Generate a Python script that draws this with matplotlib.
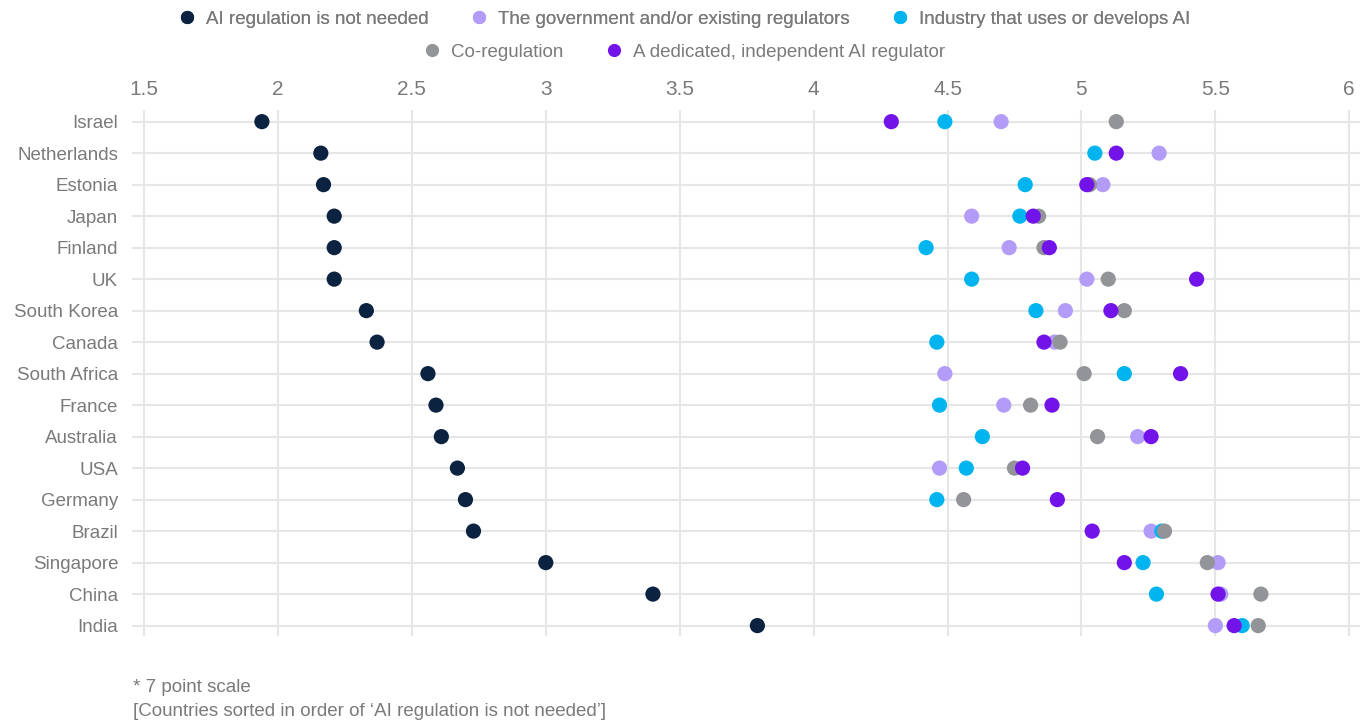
import numpy as np
import matplotlib
matplotlib.use("Agg")
import matplotlib.pyplot as plt
from matplotlib.lines import Line2D

plt.rcParams['font.family'] = ['Liberation Sans', 'DejaVu Sans']

# data (7 point scale)
countries = ["Israel", "Netherlands", "Estonia", "Japan", "Finland", "UK",
             "South Korea", "Canada", "South Africa", "France", "Australia",
             "USA", "Germany", "Brazil", "Singapore", "China", "India"]

not_needed = [1.94, 2.16, 2.17, 2.21, 2.21, 2.21, 2.33, 2.37, 2.56, 2.59,
              2.61, 2.67, 2.70, 2.73, 3.00, 3.40, 3.79]
government = [4.70, 5.29, 5.08, 4.59, 4.73, 5.02, 4.94, 4.90, 4.49, 4.71,
              5.21, 4.47, np.nan, 5.26, 5.51, 5.52, 5.50]
industry = [4.49, 5.05, 4.79, 4.77, 4.42, 4.59, 4.83, 4.46, 5.16, 4.47,
            4.63, 4.57, 4.46, 5.30, 5.23, 5.28, 5.60]
co_regulation = [5.13, np.nan, 5.03, 4.84, 4.86, 5.10, 5.16, 4.92, 5.01, 4.81,
                 5.06, 4.75, 4.56, 5.31, 5.47, 5.67, 5.66]
dedicated = [4.29, 5.13, 5.02, 4.82, 4.88, 5.43, 5.11, 4.86, 5.37, 4.89,
             5.26, 4.78, 4.91, 5.04, 5.16, 5.51, 5.57]

series = [
    ("AI regulation is not needed", not_needed, "#0b2340"),
    ("The government and/or existing regulators", government, "#b39cf7"),
    ("Industry that uses or develops AI", industry, "#00b5ef"),
    ("Co-regulation", co_regulation, "#929497"),
    ("A dedicated, independent AI regulator", dedicated, "#7213ea"),
]

text_col = "#7a7a7a"
grid_col = "#e6e6e6"
fs = 13.5

fig = plt.figure(figsize=(13.68, 7.22), dpi=100)
ax = fig.add_axes([132 / 1368, 1 - 636 / 722, 1228 / 1368, 526 / 722])

y = np.arange(len(countries))
for name, vals, col in series:
    ax.scatter(vals, y, s=120, color=col, edgecolors="none", zorder=3, label=name)

ax.set_xlim(1.455, 6.04)
ax.set_ylim(16.33, -0.37)
ax.set_xticks(np.arange(1.5, 6.01, 0.5))
ax.set_xticklabels(["1.5", "2", "2.5", "3", "3.5", "4", "4.5", "5", "5.5", "6"])
ax.xaxis.tick_top()
ax.set_yticks(y)
ax.set_yticklabels(countries)
ax.tick_params(axis="x", length=0, pad=8, labelsize=15, labelcolor=text_col)
ax.tick_params(axis="y", length=0, pad=10, labelsize=fs, labelcolor=text_col)
ax.grid(True, color=grid_col, linewidth=1.5, zorder=0)
ax.set_axisbelow(True)
for s in ax.spines.values():
    s.set_visible(False)

# legend in two centred rows
handles = [Line2D([], [], marker="o", linestyle="none", markersize=9.5,
                  markerfacecolor=c, markeredgecolor="none") for _, _, c in series]
labels = [n for n, _, _ in series]
leg1 = fig.legend(handles[:3], labels[:3], loc="center", bbox_to_anchor=(0.5, 1 - 19 / 722),
                  ncol=3, frameon=False, fontsize=fs, labelcolor=text_col,
                  handletextpad=0.5, columnspacing=2.2, handlelength=1.0)
fig.legend(handles[3:], labels[3:], loc="center", bbox_to_anchor=(0.5, 1 - 52 / 722),
           ncol=2, frameon=False, fontsize=fs, labelcolor=text_col,
           handletextpad=0.5, columnspacing=2.2, handlelength=1.0)
fig.add_artist(leg1)

fig.text(133 / 1368, 1 - 688 / 722, "* 7 point scale", fontsize=fs,
         color=text_col, va="center")
fig.text(133 / 1368, 1 - 711 / 722, "[Countries sorted in order of \u2018AI regulation is not needed\u2019]",
         fontsize=fs, color=text_col, va="center")

fig.savefig("out.png", dpi=100)
